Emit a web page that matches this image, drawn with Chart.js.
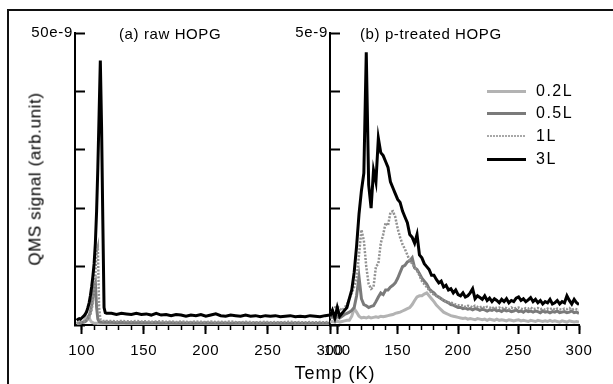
<!DOCTYPE html>
<html>
<head>
<meta charset="utf-8">
<script src="https://cdn.jsdelivr.net/npm/chart.js@4/dist/chart.umd.min.js"></script>
<style>
body { margin: 0; background: #fff; }
#wrap { position: relative; width: 613px; height: 384px; overflow: hidden; font-family: 'Liberation Sans', Arial, sans-serif; color: #000; }
canvas { position: absolute; left: 0; top: 0; }
.txt { position: absolute; white-space: nowrap; }
#frame { position: absolute; left: 7px; top: 9px; width: 800px; height: 600px; border-left: 2px solid #111; border-top: 2px solid #111; }
</style>
</head>
<body>
<div id="wrap">
  <div id="frame"></div>
  <canvas id="chartA" width="613" height="384"></canvas>
  <canvas id="chartB" width="613" height="384"></canvas>
  <div class="txt" style="left:119px;top:25px;font-size:15px;line-height:18px;letter-spacing:0.6px">(a) raw HOPG</div>
  <div class="txt" style="left:360px;top:25px;font-size:15px;line-height:18px;letter-spacing:0.6px">(b) p-treated HOPG</div>
  <div class="txt" style="left:35px;top:179px;transform:translate(-50%,-50%) rotate(-90deg);font-size:17px;line-height:17px;letter-spacing:0.6px">QMS signal (arb.unit)</div>
  <div class="txt" style="left:335px;top:364px;transform:translateX(-50%);font-size:18px;line-height:18px;letter-spacing:1px">Temp (K)</div>
  <div id="legend"></div>
</div>
<script>
// exposures (legend order)
const seriesLabels = ['0.2L', '0.5L', '1L', '3L'];

// (a) raw HOPG, signal in units of 1e-9
const tempsA = [96, 97, 98, 99, 100, 101, 102, 103, 104, 105, 106, 107, 108, 109, 110, 111, 112, 113, 114, 115, 116, 117, 118, 119, 120,
  124, 128, 132, 136, 140, 144, 148, 152, 156, 160, 164, 168, 172, 176, 180, 184, 188, 192, 196, 200,
  204, 208, 212, 216, 220, 224, 228, 232, 236, 240, 244, 248, 252, 256, 260, 264, 268, 272, 276, 280,
  284, 288, 292, 296, 300];
const rawL02 = [0.2, 0.25, 0.3, 0.35, 0.4, 0.5, 0.7, 1.0, 1.4, 1.5, 1.2, 0.8, 0.5, 0.4, 0.3, 0.3, 0.28, 0.25, 0.25, 0.25, 0.22, 0.25, 0.22, 0.2, 0.22,
  0.2, 0.22, 0.2, 0.18, 0.2, 0.22, 0.18, 0.2, 0.19, 0.2, 0.18, 0.2, 0.17, 0.19, 0.2, 0.18, 0.17, 0.19, 0.18, 0.17,
  0.19, 0.16, 0.18, 0.17, 0.16, 0.18, 0.17, 0.16, 0.18, 0.16, 0.17, 0.15, 0.17, 0.16, 0.15, 0.17, 0.16, 0.15, 0.16, 0.15,
  0.16, 0.15, 0.16, 0.15, 0.16];
const rawL05 = [0.3, 0.3, 0.35, 0.35, 0.4, 0.45, 0.5, 0.6, 0.8, 1.1, 1.6, 2.3, 3.3, 4.8, 6.5, 7.2, 3.0, 1.0, 0.6, 0.5, 0.5, 0.45, 0.45, 0.5, 0.45,
  0.45, 0.4, 0.45, 0.4, 0.42, 0.38, 0.42, 0.4, 0.38, 0.42, 0.36, 0.4, 0.38, 0.36, 0.4, 0.35, 0.38, 0.36, 0.34, 0.38,
  0.35, 0.33, 0.36, 0.34, 0.32, 0.35, 0.33, 0.34, 0.32, 0.35, 0.3, 0.33, 0.32, 0.3, 0.34, 0.31, 0.3, 0.33, 0.3, 0.32,
  0.3, 0.31, 0.29, 0.32, 0.3];
const rawL1 = [0.3, 0.35, 0.4, 0.4, 0.5, 0.5, 0.6, 0.7, 0.8, 1.0, 1.3, 1.8, 2.6, 4.0, 6.0, 9.0, 12.5, 13.4, 3.0, 1.0, 0.8, 0.7, 0.7, 0.65, 0.7,
  0.7, 0.6, 0.7, 0.65, 0.6, 0.7, 0.6, 0.65, 0.55, 0.6, 0.65, 0.55, 0.6, 0.5, 0.6, 0.55, 0.5, 0.6, 0.55, 0.5,
  0.6, 0.5, 0.55, 0.5, 0.6, 0.5, 0.45, 0.55, 0.5, 0.45, 0.5, 0.55, 0.45, 0.5, 0.45, 0.5, 0.55, 0.45, 0.5, 0.45,
  0.5, 0.45, 0.5, 0.45, 0.55];
const rawL3 = [0.8, 1.0, 1.1, 1.0, 1.2, 1.4, 1.6, 1.9, 2.3, 3.0, 3.8, 5.0, 6.5, 8.3, 10.5, 14.0, 19.5, 27.0, 36.0, 45.3, 34.0, 18.0, 3.0, 2.1, 2.0,
  2.0, 1.8, 2.0, 1.9, 1.8, 2.0, 1.8, 1.9, 1.7, 2.0, 1.7, 1.8, 1.6, 1.8, 1.7, 1.5, 1.7, 1.6, 1.8, 1.5,
  1.7, 1.9, 1.6, 1.5, 1.7, 1.6, 1.5, 1.7, 1.5, 1.6, 1.4, 1.6, 1.5, 1.6, 1.4, 1.5, 1.6, 1.4, 1.5, 1.4,
  1.6, 1.5, 1.4, 1.6, 1.7];

// (b) p-treated HOPG, signal in units of 1e-9
const tempsB = [94, 96, 98, 100, 102, 104, 106, 108, 110, 112, 114, 116, 118, 120, 122, 124, 126, 128, 130, 132,
  134, 136, 138, 140, 142, 144, 146, 148, 150, 152, 154, 156, 158, 160, 162, 164, 166, 168, 170, 172,
  174, 176, 178, 180, 182, 184, 186, 188, 190, 192, 194, 196, 198, 200, 202, 204, 206, 208, 210, 212,
  214, 216, 218, 220, 222, 224, 226, 228, 230, 232, 234, 236, 238, 240, 242, 244, 246, 248, 250, 252,
  254, 256, 258, 260, 262, 264, 266, 268, 270, 272, 274, 276, 278, 280, 282, 284, 286, 288, 290, 292,
  294, 296, 298, 300];
const ptL02 = [0.05, 0.06, 0.05, 0.07, 0.05, 0.06, 0.07, 0.08, 0.08, 0.15, 0.28, 0.22, 0.15, 0.12, 0.13, 0.12, 0.14, 0.12, 0.13, 0.14,
  0.13, 0.15, 0.14, 0.15, 0.16, 0.17, 0.18, 0.2, 0.21, 0.22, 0.24, 0.26, 0.28, 0.3, 0.35, 0.42, 0.48, 0.5, 0.5, 0.53,
  0.55, 0.5, 0.45, 0.4, 0.34, 0.3, 0.26, 0.22, 0.2, 0.18, 0.16, 0.15, 0.14, 0.13, 0.12, 0.11, 0.12, 0.1, 0.11, 0.1,
  0.09, 0.11, 0.1, 0.09, 0.1, 0.08, 0.1, 0.09, 0.08, 0.1, 0.08, 0.09, 0.08, 0.07, 0.09, 0.08, 0.07, 0.08, 0.09, 0.07,
  0.08, 0.07, 0.06, 0.08, 0.07, 0.06, 0.08, 0.07, 0.06, 0.07, 0.06, 0.08, 0.06, 0.07, 0.06, 0.05, 0.07, 0.06, 0.05, 0.07,
  0.06, 0.05, 0.06, 0.05];
const ptL05 = [0.12, 0.15, 0.1, 0.15, 0.12, 0.15, 0.18, 0.2, 0.22, 0.25, 0.3, 0.5, 0.82, 0.45, 0.35, 0.33, 0.3, 0.32, 0.33, 0.4,
  0.48, 0.55, 0.52, 0.6, 0.6, 0.65, 0.68, 0.72, 0.8, 0.9, 1.0, 1.02, 1.08, 1.1, 1.15, 0.98, 0.95, 0.88, 0.8, 0.75,
  0.7, 0.62, 0.58, 0.55, 0.5, 0.48, 0.45, 0.42, 0.4, 0.38, 0.35, 0.34, 0.32, 0.3, 0.3, 0.28, 0.29, 0.27, 0.28, 0.26,
  0.28, 0.27, 0.25, 0.27, 0.26, 0.24, 0.26, 0.25, 0.27, 0.24, 0.25, 0.23, 0.26, 0.24, 0.25, 0.23, 0.24, 0.26, 0.23, 0.24,
  0.22, 0.25, 0.23, 0.24, 0.22, 0.24, 0.23, 0.21, 0.24, 0.22, 0.23, 0.21, 0.23, 0.22, 0.24, 0.21, 0.22, 0.23, 0.21, 0.22,
  0.24, 0.21, 0.22, 0.2];
const ptL1 = [0.2, 0.25, 0.3, 0.32, 0.28, 0.25, 0.3, 0.35, 0.45, 0.55, 0.65, 0.8, 1.2, 1.63, 1.45, 1.0, 0.7, 0.62, 0.65, 1.0,
  1.05, 1.4, 1.55, 1.75, 1.7, 1.93, 1.95, 1.85, 1.65, 1.5, 1.38, 1.3, 1.2, 1.1, 1.05, 0.98, 0.93, 0.85, 0.75, 0.7,
  0.65, 0.6, 0.55, 0.52, 0.5, 0.47, 0.45, 0.42, 0.4, 0.39, 0.38, 0.37, 0.35, 0.34, 0.33, 0.34, 0.31, 0.33, 0.32, 0.3,
  0.33, 0.31, 0.3, 0.32, 0.29, 0.31, 0.3, 0.28, 0.31, 0.29, 0.3, 0.28, 0.3, 0.29, 0.27, 0.3, 0.28, 0.29, 0.3, 0.28,
  0.27, 0.29, 0.28, 0.3, 0.27, 0.28, 0.29, 0.27, 0.28, 0.26, 0.28, 0.27, 0.29, 0.26, 0.28, 0.27, 0.26, 0.28, 0.27, 0.29,
  0.26, 0.28, 0.27, 0.26];
const ptL3 = [0.15, 0.25, 0.12, 0.3, 0.15, 0.2, 0.25, 0.3, 0.45, 0.6, 0.9, 1.35, 1.9, 2.3, 2.6, 4.67, 2.4, 2.0, 2.65, 2.45,
  3.2, 2.95, 2.9, 2.8, 2.7, 2.45, 2.35, 2.25, 2.15, 2.1, 1.95, 1.85, 1.75, 1.55, 1.5, 1.4, 1.55, 1.2, 1.15, 1.05,
  1.0, 0.95, 0.85, 0.85, 0.78, 0.72, 0.75, 0.65, 0.68, 0.6, 0.62, 0.55, 0.6, 0.52, 0.5, 0.55, 0.48, 0.5, 0.55, 0.62,
  0.45, 0.5, 0.47, 0.44, 0.5, 0.42, 0.46, 0.4, 0.45, 0.42, 0.38, 0.44, 0.4, 0.45, 0.38, 0.42, 0.4, 0.46, 0.48, 0.42,
  0.45, 0.4, 0.43, 0.47, 0.4, 0.44, 0.38, 0.42, 0.36, 0.4, 0.38, 0.44, 0.36, 0.38, 0.42, 0.36, 0.4, 0.38, 0.5, 0.42,
  0.36, 0.44, 0.38, 0.35];

// tick positions
const majorTemps = [100, 150, 200, 250, 300];
const minorTemps = [100, 110, 120, 130, 140, 150, 160, 170, 180, 190, 200, 210, 220, 230, 240, 250, 260, 270, 280, 290, 300];
const yTicksA = [0, 10, 20, 30, 40, 50];
const yTicksB = [0, 1, 2, 3, 4, 5];

// line styles
const seriesColors = ['#b3b3b3', '#7a7a7a', '#929292', '#000000'];
const seriesWidths = [3, 3, 2.5, 3];
const seriesDash = [[], [], [2, 1.5], []];

Chart.defaults.font.family = "'Liberation Sans', Arial, sans-serif";
Chart.defaults.color = '#000';

const textSpacing = {
  id: 'textSpacing',
  beforeDraw(chart) { chart.ctx.letterSpacing = '0.7px'; }
};

// pad: canvas space left around the plot box; yWidth: room for the y labels
function makePanel(canvasId, temps, seriesList, xMin, yMax, yTicks, topLabel, pad, yWidth) {
  const ctx = document.getElementById(canvasId).getContext('2d');
  return new Chart(ctx, {
    type: 'line',
    data: {
      datasets: seriesList.map((vals, k) => ({
        label: seriesLabels[k],
        data: temps.map((t, i) => ({ x: t, y: vals[i] })),
        borderColor: seriesColors[k],
        borderWidth: seriesWidths[k],
        borderDash: seriesDash[k],
        pointRadius: 0,
        tension: 0,
        fill: false,
        order: 4 - k
      }))
    },
    options: {
      responsive: false,
      animation: false,
      layout: { padding: pad },
      plugins: { legend: { display: false }, tooltip: { enabled: false } },
      scales: {
        x: {
          type: 'linear', min: xMin, max: 300, weight: 1,
          afterFit: s => { s.height = 45; },
          afterBuildTicks: s => { s.ticks = majorTemps.map(v => ({ value: v })); },
          ticks: { autoSkip: false, maxRotation: 0, padding: 8, font: { size: 15 }, callback: v => String(v) },
          grid: { drawOnChartArea: false, tickLength: 9, tickWidth: 2, tickColor: '#000' },
          border: { display: true, color: '#000', width: 2 }
        },
        xMinor: {
          type: 'linear', position: 'bottom', min: xMin, max: 300, weight: 0,
          afterFit: s => { s.height = 0; },
          afterBuildTicks: s => { s.ticks = minorTemps.map(v => ({ value: v })); },
          ticks: { display: false },
          grid: { drawOnChartArea: false, tickLength: 5, tickWidth: 1.5, tickColor: '#000' },
          border: { display: false }
        },
        y: {
          min: 0, max: yMax,
          afterFit: s => { s.width = yWidth; },
          afterBuildTicks: s => { s.ticks = yTicks.map(v => ({ value: v })); },
          ticks: { autoSkip: false, padding: 12, font: { size: 15 }, callback: v => (v === yMax ? topLabel : '') },
          grid: { drawOnChartArea: false, tickLength: -10, tickWidth: 2, tickColor: '#000' },
          border: { display: true, color: '#000', width: 2 }
        }
      }
    },
    plugins: [textSpacing]
  });
}

makePanel('chartA', tempsA, [rawL02, rawL05, rawL1, rawL3], 94.6, 50, yTicksA, '50e-9',
  { left: 10, right: 283, top: 33, bottom: 14 }, 65);
makePanel('chartB', tempsB, [ptL02, ptL05, ptL1, ptL3], 94, 5, yTicksB, '5e-9',
  { left: 280, right: 34, top: 33, bottom: 14 }, 50);

// legend built from the series styles
const legendRowY = [91, 113, 136, 159];
const legend = document.getElementById('legend');
seriesLabels.forEach((lab, k) => {
  const line = document.createElement('div');
  line.style.position = 'absolute';
  line.style.left = '487px';
  line.style.width = '39px';
  const h = seriesDash[k].length ? 2 : 3;
  line.style.height = h + 'px';
  line.style.top = (legendRowY[k] - h / 2) + 'px';
  line.style.background = seriesDash[k].length
    ? 'repeating-linear-gradient(90deg,#a8a8a8 0 2px,transparent 2px 3px)'
    : seriesColors[k];
  legend.appendChild(line);
  const txt = document.createElement('div');
  txt.className = 'txt';
  txt.style.left = '536px';
  txt.style.top = (legendRowY[k] - 10) + 'px';
  txt.style.fontSize = '16px';
  txt.style.lineHeight = '20px';
  txt.style.letterSpacing = '1.5px';
  txt.textContent = lab;
  legend.appendChild(txt);
});
</script>
</body>
</html>
